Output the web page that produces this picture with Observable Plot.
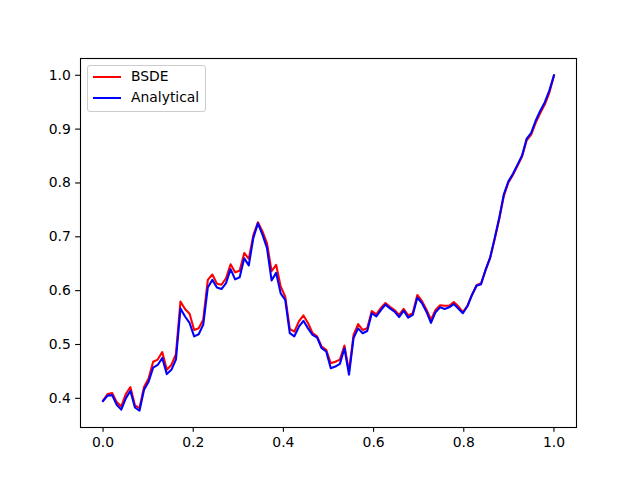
<!DOCTYPE html>
<html>
<head>
<meta charset="utf-8">
<script src="https://cdn.jsdelivr.net/npm/d3@7"></script>
<script src="https://cdn.jsdelivr.net/npm/@observablehq/plot@0.6"></script>
<style>
  html, body { margin: 0; padding: 0; background: white; }
  #wrap { position: relative; width: 640px; height: 480px; font-family: "DejaVu Sans", sans-serif; }
  #legend { position: absolute; left: 87px; top: 65px; width: 117px; height: 45px; border: 1px solid #cccccc; border-radius: 3px; background: rgba(255,255,255,0.8); font-size: 13.9px; color: black; }
  .item { position: absolute; left: 0; height: 20px; }
  .swatch { position: absolute; left: 5px; width: 28px; height: 2px; }
  .lab { position: absolute; left: 43px; white-space: nowrap; line-height: 16px; }
</style>
</head>
<body>
<div id="wrap"></div>
<script>
// Time grid: 100 samples from 0 to 1
const nSteps = 100;
const seriesNames = ["BSDE", "Analytical"];
const seriesColors = ["#ff0000", "#0000ff"];

const bsde = [
  0.396, 0.408, 0.410, 0.393, 0.385, 0.408, 0.421, 0.387, 0.382, 0.421,
  0.437, 0.468, 0.472, 0.486, 0.453, 0.462, 0.482, 0.580, 0.566, 0.557,
  0.527, 0.530, 0.546, 0.620, 0.630, 0.613, 0.611, 0.623, 0.649, 0.634,
  0.637, 0.670, 0.659, 0.703, 0.727, 0.710, 0.688, 0.636, 0.648, 0.608,
  0.589, 0.529, 0.524, 0.543, 0.554, 0.540, 0.521, 0.515, 0.496, 0.490,
  0.465, 0.468, 0.472, 0.498, 0.450, 0.518, 0.538, 0.527, 0.530, 0.562,
  0.556, 0.568, 0.577, 0.570, 0.564, 0.555, 0.566, 0.554, 0.558, 0.592,
  0.581, 0.565, 0.546, 0.564, 0.573, 0.572, 0.572, 0.579, 0.571, 0.560,
  0.572, 0.592, 0.610, 0.614, 0.638, 0.661, 0.696, 0.733, 0.776, 0.801,
  0.815, 0.832, 0.849, 0.879, 0.890, 0.912, 0.930, 0.946, 0.968, 0.999
];

const analytical = [
  0.395, 0.405, 0.406, 0.388, 0.379, 0.400, 0.414, 0.383, 0.377, 0.416,
  0.431, 0.457, 0.462, 0.475, 0.445, 0.453, 0.472, 0.567, 0.552, 0.540,
  0.515, 0.519, 0.537, 0.606, 0.620, 0.606, 0.603, 0.614, 0.640, 0.621,
  0.625, 0.660, 0.647, 0.698, 0.725, 0.704, 0.679, 0.619, 0.633, 0.595,
  0.583, 0.521, 0.515, 0.533, 0.544, 0.530, 0.518, 0.513, 0.493, 0.487,
  0.456, 0.459, 0.464, 0.493, 0.444, 0.512, 0.530, 0.521, 0.525, 0.558,
  0.552, 0.564, 0.574, 0.567, 0.561, 0.551, 0.563, 0.550, 0.555, 0.587,
  0.577, 0.561, 0.540, 0.560, 0.569, 0.566, 0.569, 0.575, 0.567, 0.558,
  0.571, 0.592, 0.609, 0.612, 0.639, 0.662, 0.698, 0.736, 0.779, 0.803,
  0.817, 0.834, 0.851, 0.882, 0.893, 0.916, 0.934, 0.950, 0.972, 1.000
];

const xTicks = [0, 0.2, 0.4, 0.6, 0.8, 1.0];
const yTicks = [0.4, 0.5, 0.6, 0.7, 0.8, 0.9, 1.0];

const tGrid = d3.range(nSteps).map(i => i / (nSteps - 1));
const rows = [];
[bsde, analytical].forEach((arr, k) => {
  arr.forEach((v, i) => rows.push({t: tGrid[i], v, s: seriesNames[k]}));
});

// matplotlib-style 5% margins
const allV = bsde.concat(analytical);
const yMin = d3.min(allV), yMax = d3.max(allV);
const yPad = (yMax - yMin) * 0.05;
const xPad = 0.05;

const tick = 4.86, pad = 4.86;

const chart = Plot.plot({
  width: 640,
  height: 480,
  marginLeft: 80,
  marginRight: 64,
  marginTop: 58,
  marginBottom: 53,
  style: {fontFamily: "DejaVu Sans, sans-serif", fontSize: "13.9px", background: "white", color: "black"},
  x: {domain: [-xPad, 1 + xPad]},
  y: {domain: [yMin - yPad, yMax + yPad]},
  color: {domain: seriesNames, range: seriesColors},
  marks: [
    Plot.line(rows, {x: "t", y: "v", z: "s", stroke: "s", strokeWidth: 2.08, strokeLinejoin: "round", strokeLinecap: "square"}),
    Plot.frame({stroke: "black", strokeWidth: 1.1}),
    Plot.axisX({ticks: xTicks, tickFormat: d => d.toFixed(1), tickSize: tick, tickPadding: pad, label: null, fontSize: 13.9, strokeWidth: 1.1}),
    Plot.axisY({ticks: yTicks, tickFormat: d => d.toFixed(1), tickSize: tick, tickPadding: pad, label: null, fontSize: 13.9, strokeWidth: 1.1})
  ]
});

const wrap = document.getElementById("wrap");
wrap.appendChild(chart);

// Legend (upper left, inside axes)
const legend = document.createElement("div");
legend.id = "legend";
seriesNames.forEach((name, k) => {
  const item = document.createElement("div");
  item.className = "item";
  item.style.top = (k * 21 + 2) + "px";
  const sw = document.createElement("div");
  sw.className = "swatch";
  sw.style.top = "8px";
  sw.style.background = seriesColors[k];
  const lab = document.createElement("div");
  lab.className = "lab";
  lab.style.top = "0px";
  lab.textContent = name;
  item.appendChild(sw);
  item.appendChild(lab);
  legend.appendChild(item);
});
wrap.appendChild(legend);
</script>
</body>
</html>
